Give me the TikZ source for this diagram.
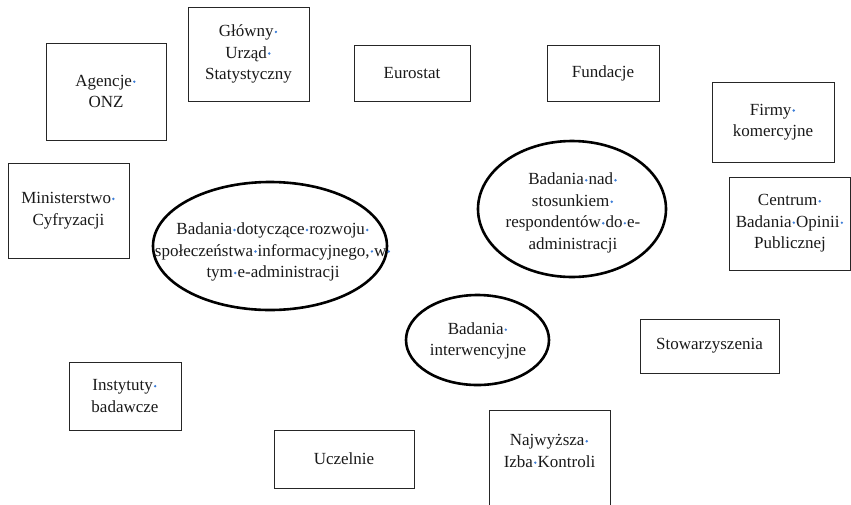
\documentclass[tikz,border=0pt]{standalone}
\usepackage{fontspec}
\setmainfont{Liberation Serif}
\usetikzlibrary{shapes.geometric}
\definecolor{dotblue}{RGB}{60,125,215}
\newcommand{\sd}{\hbox to 0.27em{\hss\tikz[baseline=-0.27em]\fill[dotblue] (0,0) circle (1.35pt);\hss}}
\tikzset{
  box/.style={draw=black!85, line width=1pt, inner sep=0pt},
  ell/.style={draw=black, ellipse, line width=2.6pt, inner sep=0pt},
  txt/.style={align=center, inner sep=0pt, font=\fontsize{17}{21.5}\selectfont, text=black!90}
}
\begin{document}
\begin{tikzpicture}[x=1pt,y=-1pt]
\useasboundingbox (0,0) rectangle (851,504);
% boxes
\node[box, minimum width=120, minimum height=97] (onz) at (106,91.5) {};
\node[txt] (onzt) at (106,91.5) {Agencje\sd\\ONZ};
\node[box, minimum width=121, minimum height=94] (gus) at (248.5,54) {};
\node[txt] (gust) at (248.5,54) {Główny\sd\\Urząd\sd\\Statystyczny};
\node[box, minimum width=116, minimum height=56] (euro) at (412,73) {};
\node[txt] (eurot) at (412,73) {Eurostat};
\node[box, minimum width=112, minimum height=56] (fund) at (603,73) {};
\node[txt] (fundt) at (603,73) {Fundacje};
\node[box, minimum width=122, minimum height=80] (firmy) at (773,122) {};
\node[txt] (firmyt) at (773,122) {Firmy\sd\\komercyjne};
\node[box, minimum width=121, minimum height=95] (min) at (68.5,210.5) {};
\node[txt] (mint) at (68.5,210.5) {Ministerstwo\sd\\Cyfryzacji};
\node[box, minimum width=121, minimum height=93] (cbos) at (790,223.5) {};
\node[txt] (cbost) at (790,223.5) {Centrum\sd\\Badania\sd Opinii\sd\\Publicznej};
\node[box, minimum width=139, minimum height=54] (stow) at (709.5,346) {};
\node[txt] (stowt) at (709.5,346) {Stowarzyszenia};
\node[box, minimum width=112, minimum height=68] (inst) at (125,396) {};
\node[txt] (instt) at (125,396) {Instytuty\sd\\badawcze};
\node[box, minimum width=140, minimum height=58] (ucz) at (344,459) {};
\node[txt] (uczt) at (344,459) {Uczelnie};
\node[box, minimum width=121, minimum height=96] (nik) at (549.5,458) {};
\node[txt] (nikt) at (549.5,451) {Najwyższa\sd\\Izba\sd Kontroli};
% ellipses
\node[ell, minimum width=234, minimum height=128] (e1) at (270,246) {};
\node[txt] (e1t) at (273,252) {Badania\sd dotyczące\sd rozwoju\sd\\społeczeństwa\sd informacyjnego,\sd w\sd\\tym\sd e-administracji};
\node[ell, minimum width=188, minimum height=136] (e2) at (572,209) {};
\node[txt] (e2t) at (573,213) {Badania\sd nad\sd\\stosunkiem\sd\\respondentów\sd do\sd e-\\administracji};
\node[ell, minimum width=143, minimum height=90] (e3) at (477.5,340) {};
\node[txt] (e3t) at (478,341) {Badania\sd\\interwencyjne};
\end{tikzpicture}
\end{document}
